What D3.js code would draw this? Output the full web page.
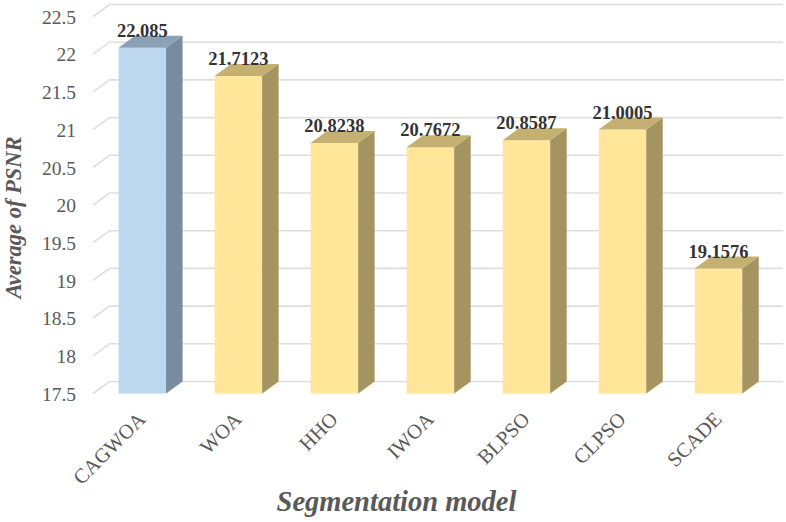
<!DOCTYPE html>
<html>
<head>
<meta charset="utf-8">
<script src="https://cdn.jsdelivr.net/npm/d3@7"></script>
<style>
  html, body { margin: 0; padding: 0; background: #fff; }
  svg { display: block; font-family: "Liberation Serif", serif; }
</style>
</head>
<body>
<svg id="chart"></svg>
<script>
const models = ['CAGWOA', 'WOA', 'HHO', 'IWOA', 'BLPSO', 'CLPSO', 'SCADE'];
const psnr = [22.085, 21.7123, 20.8238, 20.7672, 20.8587, 21.0005, 19.1576];
const labels = ['22.085', '21.7123', '20.8238', '20.7672', '20.8587', '21.0005', '19.1576'];
const yTicks = [17.5, 18, 18.5, 19, 19.5, 20, 20.5, 21, 21.5, 22, 22.5];

const w = 786, h = 522;
// depth of the fake 3d box
const dx = 16.5, dy = -12;

const colors = {
  blue: {front: '#bdd7ee', side: '#788c9f', top: '#8da1b6'},
  yellow: {front: '#ffe699', side: '#a4945f', top: '#c4b071'}
};

const x = d3.scaleBand()
  .domain(models)
  .range([94.3, 766.5])
  .paddingInner(0.505)
  .paddingOuter(0.2525);

const y = d3.scaleLinear()
  .domain([17.5, 22.5])
  .range([393.5, 16.5]);

const svg = d3.select('#chart')
  .attr('width', w)
  .attr('height', h)
  .attr('viewBox', `0 0 ${w} ${h}`);

// back wall + floor/side lines
const grid = svg.append('g')
  .attr('fill', 'none')
  .attr('stroke', '#dedede')
  .attr('stroke-width', 1.6);

const wallLeft = 93;
const wallRight = 783 - dx;

grid.selectAll('path')
  .data(yTicks)
  .join('path')
  .attr('d', d => `M${wallLeft},${y(d)}L${wallLeft + dx},${y(d) + dy}L${wallRight + dx},${y(d) + dy}`);

// y tick labels, axis line itself is hidden
const yAxis = svg.append('g')
  .attr('transform', 'translate(76,0.5)')
  .call(d3.axisLeft(y).tickValues(yTicks).tickSize(0).tickPadding(0).tickFormat(d => String(d)));
yAxis.select('.domain').remove();
yAxis.selectAll('text')
  .attr('font-family', '"Liberation Serif", serif')
  .attr('font-size', 19.5)
  .attr('fill', '#595959');

const rows = models.map((m, i) => ({model: m, value: psnr[i], label: labels[i], color: i === 0 ? colors.blue : colors.yellow}));

const bars = svg.append('g')
  .selectAll('g')
  .data(rows)
  .join('g');

bars.append('rect')
  .attr('x', d => x(d.model))
  .attr('y', d => y(d.value))
  .attr('width', x.bandwidth())
  .attr('height', d => y(17.5) - y(d.value))
  .attr('fill', d => d.color.front);

bars.append('path')
  .attr('fill', d => d.color.side)
  .attr('d', d => {
    const r = x(d.model) + x.bandwidth();
    return `M${r},${y(d.value)}L${r + dx},${y(d.value) + dy}L${r + dx},${y(17.5) + dy}L${r},${y(17.5)}Z`;
  });

bars.append('path')
  .attr('fill', d => d.color.top)
  .attr('d', d => {
    const l = x(d.model), r = l + x.bandwidth(), t = y(d.value);
    return `M${l},${t}L${l + dx},${t + dy}L${r + dx},${t + dy}L${r},${t}Z`;
  });

bars.append('text')
  .attr('x', d => x(d.model) + x.bandwidth() / 2)
  .attr('y', d => y(d.value) - 11)
  .attr('text-anchor', 'middle')
  .attr('font-size', 18.5)
  .attr('font-weight', 'bold')
  .attr('fill', '#333')
  .text(d => d.label);

// rotated category labels
svg.append('g')
  .selectAll('text')
  .data(models)
  .join('text')
  .attr('transform', d => `translate(${x(d) + x.bandwidth() / 2 + 4.5},${420.5}) rotate(-45)`)
  .attr('text-anchor', 'end')
  .attr('font-size', 20.5)
  .attr('fill', '#595959')
  .text(d => d);

svg.append('text')
  .attr('x', 396.5)
  .attr('y', 511)
  .attr('text-anchor', 'middle')
  .attr('font-size', 28.5)
  .attr('font-weight', 'bold')
  .attr('font-style', 'italic')
  .attr('fill', '#595959')
  .text('Segmentation model');

svg.append('text')
  .attr('transform', 'translate(21,217.5) rotate(-90)')
  .attr('text-anchor', 'middle')
  .attr('font-size', 22.5)
  .attr('font-weight', 'bold')
  .attr('font-style', 'italic')
  .attr('fill', '#595959')
  .text('Average of PSNR');
</script>
</body>
</html>
